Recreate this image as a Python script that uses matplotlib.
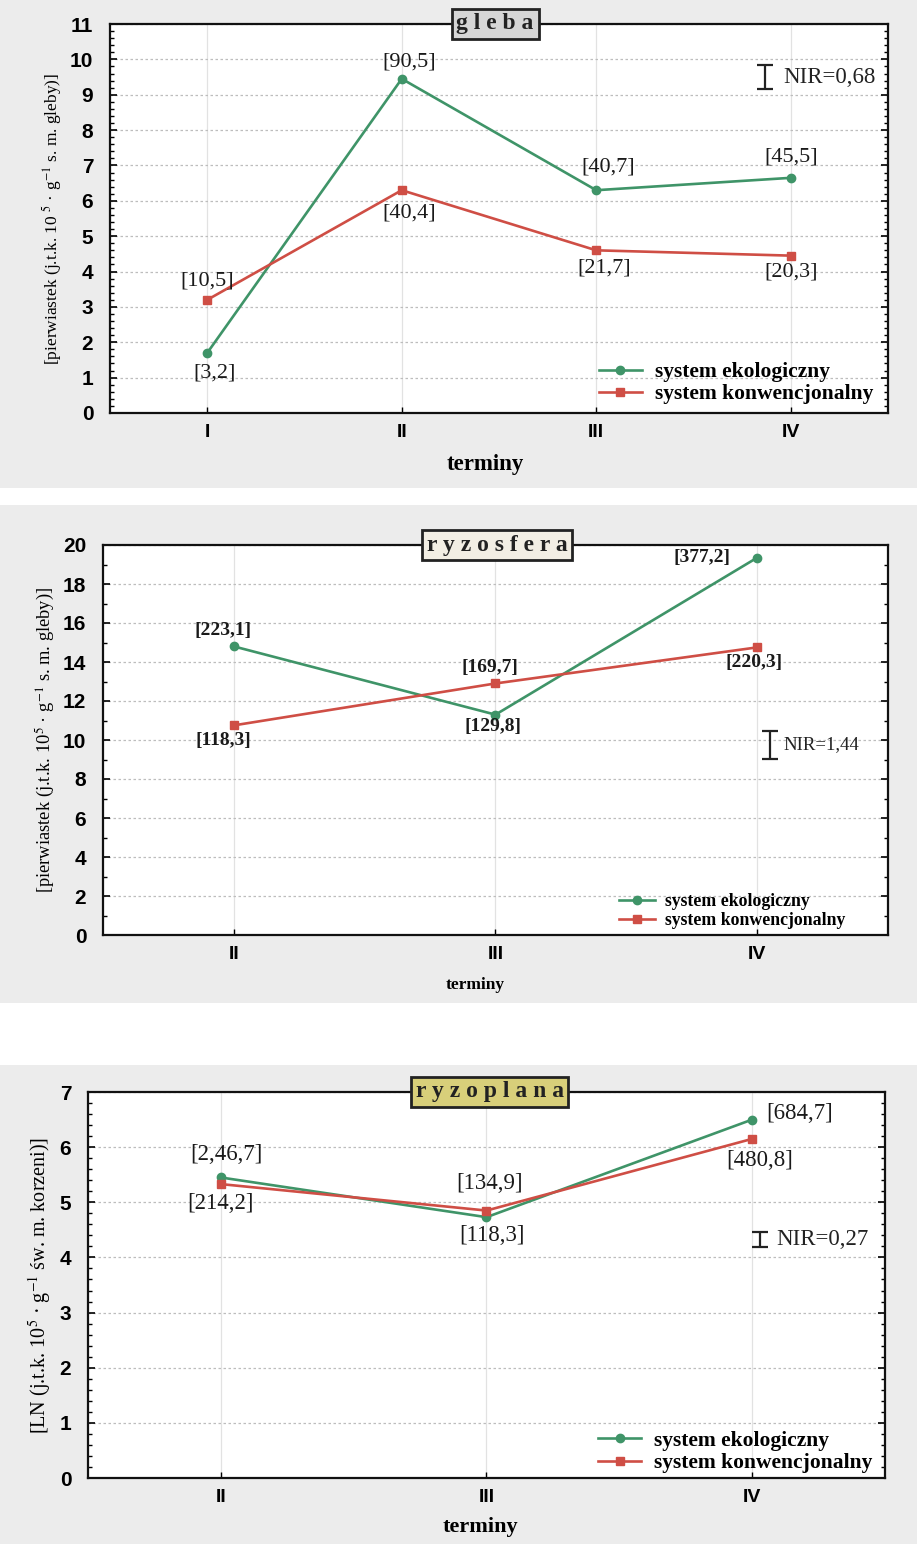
import matplotlib
matplotlib.use("Agg")
import matplotlib.pyplot as plt
from matplotlib.patches import Rectangle
from matplotlib.ticker import MultipleLocator

plt.rcParams['font.family'] = ['Liberation Serif', 'DejaVu Serif']
plt.rcParams['mathtext.fontset'] = 'stix'

GREEN = '#3f9468'
RED = '#cf4e45'

# ---------- data ----------
terms1 = ['I', 'II', 'III', 'IV']
eko1 = [1.7, 9.45, 6.3, 6.65]
konw1 = [3.2, 6.3, 4.6, 4.45]
lab_eko1 = ['[3,2]', '[90,5]', '[40,7]', '[45,5]']
lab_konw1 = ['[10,5]', '[40,4]', '[21,7]', '[20,3]']
nir1 = 0.68

terms2 = ['II', 'III', 'IV']
eko2 = [14.8, 11.3, 19.35]
konw2 = [10.75, 12.9, 14.75]
lab_eko2 = ['[223,1]', '[129,8]', '[377,2]']
lab_konw2 = ['[118,3]', '[169,7]', '[220,3]']
nir2 = 1.44

terms3 = ['II', 'III', 'IV']
eko3 = [5.45, 4.73, 6.5]
konw3 = [5.33, 4.85, 6.15]
lab_eko3 = ['[2,46,7]', '[118,3]', '[684,7]']
lab_konw3 = ['[214,2]', '[134,9]', '[480,8]']
nir3 = 0.27

W, H = 917, 1544
fig = plt.figure(figsize=(W / 100, H / 100), dpi=100)
fig.patch.set_facecolor('white')

def px_rect(y0, y1):
    fig.patches.append(Rectangle((0, 1 - y1 / H), 1, (y1 - y0) / H,
                                 transform=fig.transFigure, facecolor='#ececec',
                                 edgecolor='none', zorder=-10))

px_rect(0, 488)
px_rect(505, 1003)
px_rect(1065, 1544)

def make_axes(left, right, top, bottom):
    return fig.add_axes([left / W, 1 - bottom / H, (right - left) / W, (bottom - top) / H])

def style(ax, terms, ymax, ymajor, yminor, ylabel, ylab_fs, title, title_fc, title_x,
          eko, konw, xlab_fs, xlab_x, xlab_y):
    x = list(range(len(terms)))
    ax.set_facecolor('white')
    ax.set_xlim(-0.5, len(terms) - 0.5)
    ax.set_ylim(0, ymax)
    ax.yaxis.set_major_locator(MultipleLocator(ymajor))
    ax.yaxis.set_minor_locator(MultipleLocator(yminor))
    ax.set_xticks(x)
    ax.set_xticklabels(terms, family='Liberation Sans', fontsize=14, fontweight='bold')
    for lbl in ax.get_yticklabels():
        lbl.set_family('Liberation Sans')
        lbl.set_fontsize(15)
        lbl.set_fontweight('bold')
    ax.tick_params(axis='y', which='major', direction='in', length=5, width=1.2, pad=12)
    ax.tick_params(axis='y', which='minor', direction='in', length=3, width=1)
    ax.tick_params(axis='x', which='major', direction='in', length=4, width=1, pad=8)
    ax.tick_params(right=True, which='both', direction='in')
    for s in ax.spines.values():
        s.set_linewidth(1.6)
        s.set_color('#111111')
    ax.yaxis.grid(True, which='major', linestyle=(0, (2, 2)), color='#bdbdbd', linewidth=0.9)
    ax.xaxis.grid(True, which='major', linestyle='-', color='#e2e2e2', linewidth=0.9)
    ax.set_axisbelow(True)
    ax.plot(x, eko, color=GREEN, lw=1.9, marker='o', ms=6, mfc=GREEN, mec=GREEN,
            label='system ekologiczny', zorder=3)
    ax.plot(x, konw, color=RED, lw=1.9, marker='s', ms=6, mfc=RED, mec=RED,
            label='system konwencjonalny', zorder=3)
    ax.set_ylabel(ylabel, fontsize=ylab_fs)
    ax.set_xlabel('terminy', fontsize=xlab_fs, fontweight='bold')
    ax.xaxis.set_label_coords(xlab_x, xlab_y)
    ax.text(title_x, 1.0, title, transform=ax.transAxes, ha='center', va='center',
            fontsize=17, fontweight='bold', color='#222222', zorder=10,
            bbox=dict(boxstyle='square,pad=0.2', fc=title_fc, ec='#222222', lw=2))
    return x

def nir(ax, xp, yp, val, text, fs, dx):
    ax.errorbar([xp], [yp], yerr=[val / 2], fmt='none', ecolor='#222222', elinewidth=1.6,
                capsize=6, capthick=1.6, zorder=4)
    ax.text(xp + dx, yp, text, ha='left', va='center', fontsize=fs, color='#222222')

def legend(ax, anchor, size, spacing):
    ax.legend(loc='lower right', bbox_to_anchor=anchor, frameon=False,
              handlelength=2.0, handletextpad=0.6, labelspacing=spacing, borderaxespad=0.0,
              prop={'family': 'Liberation Serif', 'weight': 'bold', 'size': size})

ann = dict(ha='center', va='center', color='#1a1a1a', zorder=5)

# ---------- panel 1 ----------
ax1 = make_axes(110, 888, 24, 413)
x1 = style(ax1, terms1, 11, 1, 0.2,
           '[pierwiastek (j.t.k. 10 $^{5}$ · g$^{-1}$ s. m. gleby)]', 12.5,
           'g l e b a', '#d6d6d6', 0.495, eko1, konw1, 16.5, 0.483, -0.106)
pos_eko1 = [(0.04, 1.13), (1.04, 9.92), (2.06, 6.95), (3.0, 7.23)]
pos_konw1 = [(0.0, 3.73), (1.04, 5.65), (2.04, 4.1), (3.0, 3.98)]
for (px, py), t in zip(pos_eko1, lab_eko1):
    ax1.text(px, py, t, fontsize=16, **ann)
for (px, py), t in zip(pos_konw1, lab_konw1):
    ax1.text(px, py, t, fontsize=16, **ann)
nir(ax1, 2.87, 9.5, nir1, 'NIR=0,68', 16.5, 0.09)
legend(ax1, (0.992, 0.0), 15.5, 0.1)

# ---------- panel 2 ----------
ax2 = make_axes(103, 888, 545, 935)
x2 = style(ax2, terms2, 20, 2, 1,
           '[pierwiastek (j.t.k. 10$^{5}$ · g$^{-1}$ s. m. gleby)]', 13.3,
           'r y z o s f e r a', '#f2eee4', 0.502, eko2, konw2, 12.5, 0.474, -0.108)
pos_eko2 = [(-0.04, 15.59), (0.99, 10.67), (1.79, 19.38)]
pos_konw2 = [(-0.04, 9.95), (0.977, 13.74), (1.99, 14.0)]
for (px, py), t in zip(pos_eko2, lab_eko2):
    ax2.text(px, py, t, fontsize=14, fontweight='bold', **ann)
for (px, py), t in zip(pos_konw2, lab_konw2):
    ax2.text(px, py, t, fontsize=14, fontweight='bold', **ann)
nir(ax2, 2.05, 9.74, nir2, 'NIR=1,44', 13.5, 0.05)
legend(ax2, (0.955, -0.004), 12.8, 0.15)

# ---------- panel 3 ----------
ax3 = make_axes(88, 885, 1092, 1478)
x3 = style(ax3, terms3, 7, 1, 0.2,
           '[LN (j.t.k. 10$^{5}$ · g$^{-1}$ św. m. korzeni)]', 14.5,
           'r y z o p l a n a', '#d8cf7a', 0.504, eko3, konw3, 16, 0.492, -0.102)
pos_eko3 = [(0.02, 5.86), (1.02, 4.39), (2.18, 6.61)]
pos_konw3 = [(0.0, 4.97), (1.01, 5.34), (2.03, 5.75)]
for (px, py), t in zip(pos_eko3, lab_eko3):
    ax3.text(px, py, t, fontsize=16.5, **ann)
for (px, py), t in zip(pos_konw3, lab_konw3):
    ax3.text(px, py, t, fontsize=16.5, **ann)
nir(ax3, 2.03, 4.32, nir3, 'NIR=0,27', 16.5, 0.06)
legend(ax3, (0.995, -0.01), 15.5, 0.1)

fig.savefig('out.png', dpi=100)
